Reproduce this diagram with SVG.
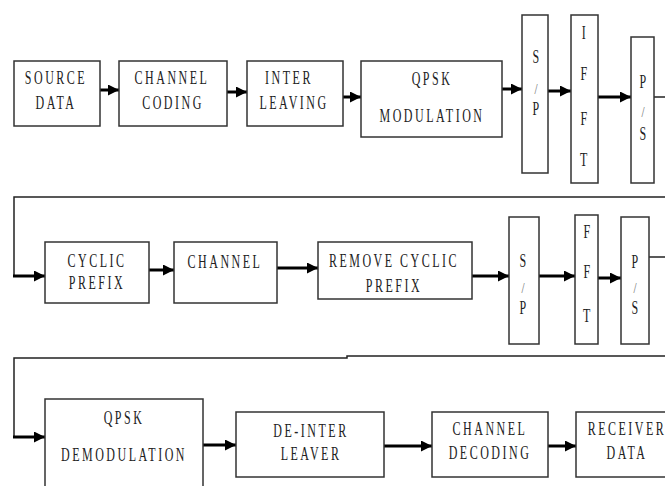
<svg xmlns="http://www.w3.org/2000/svg" width="665" height="486" viewBox="0 0 665 486">
<style>
.box{fill:#fff;stroke:#333;stroke-width:1.5}
.wire{fill:none;stroke:#222;stroke-width:1.5}
.arr{fill:none;stroke:#000;stroke-width:3;marker-end:url(#ah)}
text{font-family:"Liberation Serif","Times New Roman",serif;font-size:12px;fill:#222;letter-spacing:2.5px;text-anchor:middle}
.sl{font-size:11px;fill:#666;letter-spacing:0}
</style>
<defs>
<marker id="ah" markerUnits="userSpaceOnUse" markerWidth="11" markerHeight="11" refX="11" refY="5.5" orient="auto">
<path d="M0,0 L11,5.5 L0,11 z" fill="#000"/>
</marker>
</defs>
<rect width="665" height="486" fill="#fff"/>
<g id="connectors">
<line class="arr" x1="100" y1="90" x2="119" y2="90"/>
<line class="arr" x1="227" y1="92" x2="247" y2="92"/>
<line class="arr" x1="343" y1="97" x2="361" y2="97"/>
<line class="arr" x1="502" y1="89" x2="522" y2="89"/>
<line class="arr" x1="548" y1="91" x2="571" y2="91"/>
<line class="arr" x1="598" y1="97" x2="631" y2="97"/>
<line class="wire" x1="654" y1="97" x2="665" y2="97"/>
<path class="wire" d="M665,197 H14 V276"/>
<line class="arr" x1="13" y1="276" x2="45" y2="276"/>
<line class="arr" x1="149" y1="270" x2="174" y2="270"/>
<line class="arr" x1="277" y1="268" x2="318" y2="268"/>
<line class="arr" x1="472" y1="276" x2="509" y2="276"/>
<line class="arr" x1="539" y1="276" x2="575" y2="276"/>
<line class="arr" x1="598" y1="278" x2="621" y2="278"/>
<line class="wire" x1="649" y1="257" x2="665" y2="257"/>
<path class="wire" d="M665,356 H347 V358 H14 V437"/>
<line class="arr" x1="13" y1="437" x2="45" y2="437"/>
<line class="arr" x1="203" y1="445" x2="236" y2="445"/>
<line class="arr" x1="384" y1="446" x2="432" y2="446"/>
<line class="arr" x1="548" y1="446" x2="576" y2="446"/>
</g>
<g id="source-data"><rect class="box" x="14" y="61" width="86" height="65"/>
<text transform="translate(56,84) scale(1,1.55)">SOURCE</text><text transform="translate(56,109) scale(1,1.55)">DATA</text></g>
<g id="channel-coding"><rect class="box" x="119" y="61" width="108" height="65"/>
<text transform="translate(172,84) scale(1,1.55)">CHANNEL</text><text transform="translate(173,109) scale(1,1.55)">CODING</text></g>
<g id="inter-leaving"><rect class="box" x="247" y="61" width="96" height="65"/>
<text transform="translate(289,84) scale(1,1.55)">INTER</text><text transform="translate(294,109) scale(1,1.55)">LEAVING</text></g>
<g id="qpsk-mod"><rect class="box" x="361" y="61" width="141" height="76"/>
<text transform="translate(432,85) scale(1,1.55)">QPSK</text><text transform="translate(432,122) scale(1,1.55)">MODULATION</text></g>
<g id="sp1"><rect class="box" x="522" y="15" width="26" height="158"/>
<text transform="translate(537,63) scale(1,1.55)">S</text><text class="sl" transform="translate(536,94) scale(1,1.4)">/</text><text transform="translate(537,115) scale(1,1.55)">P</text></g>
<g id="ifft"><rect class="box" x="571" y="15" width="27" height="168"/>
<text transform="translate(585,39) scale(1,1.55)">I</text><text transform="translate(585,80) scale(1,1.55)">F</text><text transform="translate(585,125) scale(1,1.55)">F</text><text transform="translate(585,166) scale(1,1.55)">T</text></g>
<g id="ps1"><rect class="box" x="631" y="37" width="23" height="146"/>
<text transform="translate(644,88) scale(1,1.55)">P</text><text class="sl" transform="translate(643,117) scale(1,1.4)">/</text><text transform="translate(644,140) scale(1,1.55)">S</text></g>
<g id="cyclic-prefix"><rect class="box" x="45" y="242" width="104" height="61"/>
<text transform="translate(97,267) scale(1,1.55)">CYCLIC</text><text transform="translate(97,289) scale(1,1.55)">PREFIX</text></g>
<g id="channel"><rect class="box" x="174" y="242" width="103" height="61"/>
<text transform="translate(225,268) scale(1,1.55)">CHANNEL</text></g>
<g id="remove-cp"><rect class="box" x="318" y="242" width="154" height="57"/>
<text transform="translate(394,267) scale(1,1.55)">REMOVE CYCLIC</text><text transform="translate(394,292) scale(1,1.55)">PREFIX</text></g>
<g id="sp2"><rect class="box" x="509" y="217" width="30" height="127"/>
<text transform="translate(524,267) scale(1,1.55)">S</text><text class="sl" transform="translate(523,293) scale(1,1.4)">/</text><text transform="translate(524,314) scale(1,1.55)">P</text></g>
<g id="fft"><rect class="box" x="575" y="215" width="23" height="129"/>
<text transform="translate(588,238) scale(1,1.55)">F</text><text transform="translate(588,278) scale(1,1.55)">F</text><text transform="translate(588,322) scale(1,1.55)">T</text></g>
<g id="ps2"><rect class="box" x="621" y="217" width="28" height="127"/>
<text transform="translate(636,268) scale(1,1.55)">P</text><text class="sl" transform="translate(635,293) scale(1,1.4)">/</text><text transform="translate(636,314) scale(1,1.55)">S</text></g>
<g id="qpsk-demod"><rect class="box" x="45" y="399" width="158" height="110"/>
<text transform="translate(124,424) scale(1,1.55)">QPSK</text><text transform="translate(124,461) scale(1,1.55)">DEMODULATION</text></g>
<g id="de-interleaver"><rect class="box" x="236" y="412" width="148" height="65"/>
<text transform="translate(311,437) scale(1,1.55)">DE-INTER</text><text transform="translate(311,460) scale(1,1.55)">LEAVER</text></g>
<g id="channel-decoding"><rect class="box" x="432" y="412" width="116" height="65"/>
<text transform="translate(490,435) scale(1,1.55)">CHANNEL</text><text transform="translate(490,459) scale(1,1.55)">DECODING</text></g>
<g id="receiver-data"><rect class="box" x="576" y="412" width="110" height="65"/>
<text transform="translate(627,435) scale(1,1.55)">RECEIVER</text><text transform="translate(627,459) scale(1,1.55)">DATA</text></g>
</svg>
